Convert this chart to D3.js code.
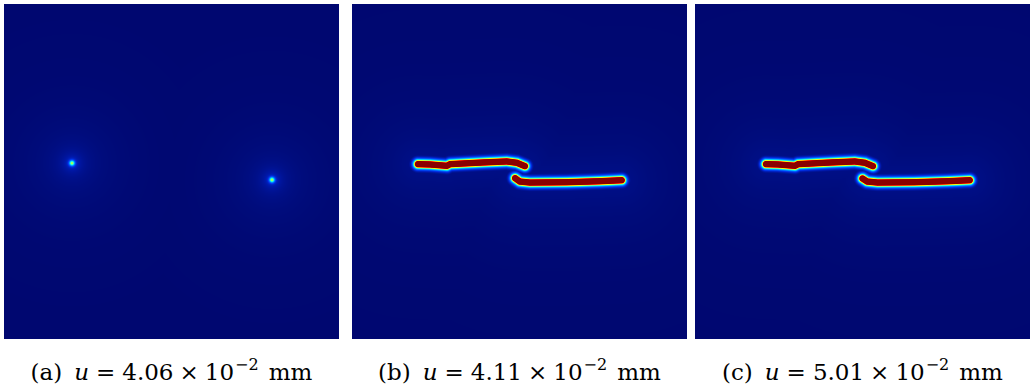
<!DOCTYPE html>
<html>
<head>
<meta charset="utf-8">
<script src="https://cdn.jsdelivr.net/npm/d3@7"></script>
<style>
  body { margin: 0; background: #fff; }
  svg { display: block; }
</style>
</head>
<body>
<svg id="fig" width="1031" height="390"></svg>
<script>
// ---- data (specimen coords, 0..1 across the square plate, y downwards) ----
const panelLabels = ["a", "b", "c"];
const displacements = ["4.06", "4.11", "5.01"];

// (a) two damage nuclei before the cracks run
const nucleiA = [[0.203, 0.475], [0.800, 0.525]];
const nucleusPeak = 0.42;

// (b) crack paths
const upperCrackB = [[0.197, 0.478], [0.233, 0.479], [0.283, 0.483], [0.293, 0.478],
                     [0.391, 0.473], [0.462, 0.470], [0.492, 0.474], [0.516, 0.484]];
const lowerCrackB = [[0.487, 0.520], [0.501, 0.530], [0.531, 0.533], [0.641, 0.532],
                     [0.740, 0.529], [0.805, 0.526]];
// (c) crack paths
const upperCrackC = [[0.212, 0.478], [0.248, 0.479], [0.298, 0.483], [0.308, 0.478],
                     [0.406, 0.473], [0.477, 0.470], [0.507, 0.474], [0.531, 0.484]];
const lowerCrackC = [[0.500, 0.521], [0.514, 0.530], [0.545, 0.533], [0.655, 0.532],
                     [0.754, 0.529], [0.820, 0.526]];

// colour map stops (phase field value -> colour), jet-like
const cmapStops  = [0, 0.03, 0.08, 0.15, 0.25, 0.35, 0.45, 0.55, 0.62, 0.7, 0.8, 0.9, 1];
const cmapColors = ["#000468", "#000c7c", "#0018a8", "#0030e8", "#0070ff", "#00c8ff",
                    "#30ffd0", "#a0ff60", "#f0ff10", "#ffb000", "#ff3000", "#c00000", "#8a0000"];

const panels = [
  { label: panelLabels[0], u: displacements[0], spots: nucleiA, cracks: [] },
  { label: panelLabels[1], u: displacements[1], spots: [], cracks: [upperCrackB, lowerCrackB] },
  { label: panelLabels[2], u: displacements[2], spots: [], cracks: [upperCrackC, lowerCrackC] }
];

const size = 335;
const panelX = [4, 352, 695];
const panelY = 4;

const color = d3.scaleLinear().domain(cmapStops).range(cmapColors).clamp(true);

const svg = d3.select("#fig");

// distance from point to segment
function segDist(px, py, ax, ay, bx, by) {
  const dx = bx - ax, dy = by - ay;
  const L = dx * dx + dy * dy;
  let t = L > 0 ? ((px - ax) * dx + (py - ay) * dy) / L : 0;
  t = Math.max(0, Math.min(1, t));
  const qx = ax + t * dx - px, qy = ay + t * dy - py;
  return Math.sqrt(qx * qx + qy * qy);
}

function renderPanel(p) {
  const x = d3.scaleLinear().domain([0, 1]).range([0, size]);
  const y = d3.scaleLinear().domain([0, 1]).range([0, size]);
  const cracks = p.cracks.map(c => c.map(d => [x(d[0]), y(d[1])]));
  const spots = p.spots.map(d => [x(d[0]), y(d[1])]);

  const canvas = document.createElement("canvas");
  canvas.width = size; canvas.height = size;
  const ctx = canvas.getContext("2d");
  const img = ctx.createImageData(size, size);

  for (let j = 0; j < size; j++) {
    for (let i = 0; i < size; i++) {
      const px = i + 0.5, py = j + 0.5;
      let v = 0.012;
      cracks.forEach(c => {
        let r = Infinity;
        for (let k = 0; k < c.length - 1; k++) {
          r = Math.min(r, segDist(px, py, c[k][0], c[k][1], c[k + 1][0], c[k + 1][1]));
        }
        const core = r < 2.7 ? 1 : Math.exp(-(r - 2.7) / 2.0);
        const glow = 0.035 * Math.exp(-r / 45);
        v = Math.max(v, core, 0.012 + glow);
      });
      spots.forEach(s => {
        const r = Math.hypot(px - s[0], py - s[1]);
        const val = nucleusPeak * Math.exp(-r * r / 7) + 0.12 * Math.exp(-r / 5) + 0.045 * Math.exp(-r / 35);
        v = Math.max(v, 0.012 + val);
      });
      const c = d3.rgb(color(v));
      const idx = (j * size + i) * 4;
      img.data[idx] = c.r; img.data[idx + 1] = c.g; img.data[idx + 2] = c.b; img.data[idx + 3] = 255;
    }
  }
  ctx.putImageData(img, 0, 0);
  return canvas.toDataURL();
}

const font = "'DejaVu Serif', 'Liberation Serif', serif";
const baseY = 380;

panels.forEach((p, i) => {
  const g = svg.append("g").attr("transform", `translate(${panelX[i]},${panelY})`);
  g.append("image")
    .attr("width", size).attr("height", size)
    .attr("href", renderPanel(p));

  // caption: (x) u = N × 10^-2 mm, centred under the panel
  const t = svg.append("text")
    .attr("x", 0)
    .attr("y", baseY)
    .style("font-family", font)
    .style("font-size", "23px")
    .attr("fill", "#000");
  t.append("tspan").text(`(${p.label})`);
  t.append("tspan").attr("dx", 12).style("font-style", "italic").text("u");
  t.append("tspan").attr("dx", 7).text("=");
  t.append("tspan").attr("dx", 7).text(p.u);
  t.append("tspan").attr("dx", 6).text("\u00d7");
  t.append("tspan").attr("dx", 6).text("10");
  t.append("tspan").attr("dx", 1).attr("dy", -10).style("font-size", "16px").text("\u22122");
  t.append("tspan").attr("dx", 10).attr("dy", 10).text("mm");
  const bb = t.node().getBBox();
  t.attr("x", panelX[i] + size / 2 - bb.width / 2 - bb.x);
});
</script>
</body>
</html>
